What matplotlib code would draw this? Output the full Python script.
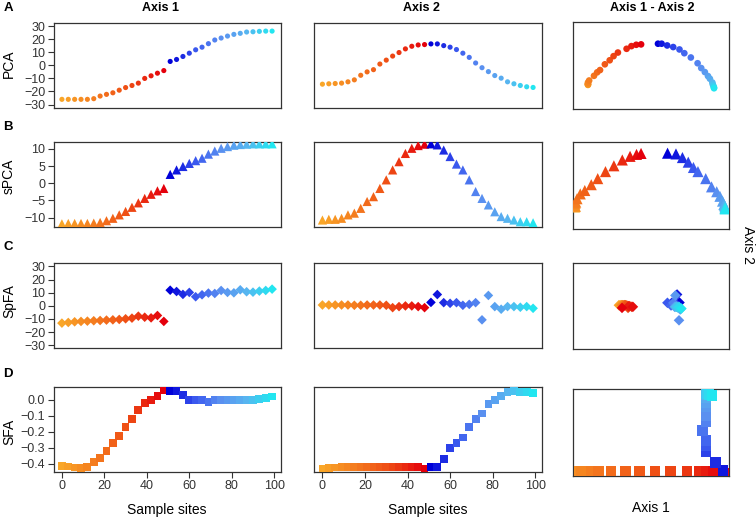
import numpy as np
import matplotlib
matplotlib.use("Agg")
import matplotlib.pyplot as plt
from matplotlib.colors import LinearSegmentedColormap

plt.rcParams["font.family"] = ["Liberation Sans", "DejaVu Sans"]

# sample sites along the transect
sites = [0, 3, 6, 9, 12, 15, 18, 21, 24, 27, 30, 33, 36, 39, 42, 45, 48,
         51, 54, 57, 60, 63, 66, 69, 72, 75, 78, 81, 84, 87, 90, 93, 96, 99]

pca_ax1 = [-26, -26, -26, -26, -26, -25.5, -23.5, -22.2, -21, -19, -17, -15.4,
           -13.6, -10, -8, -6, -4,
           3, 4.5, 6.8, 9.3, 11.9, 13.9, 16.6, 19.4, 20.9, 22.4, 23.7, 24.5,
           25.5, 25.7, 26, 26.2, 26.2]
pca_ax2 = [-14.4, -14.1, -13.9, -13.6, -12.6, -11.1, -7.6, -5.0, -3.3, 1.0,
           4.0, 7.1, 9.8, 12.6, 14.6, 15.6, 15.9,
           16.4, 16.4, 15.1, 13.9, 12.1, 9.3, 6.1, 1.8, -1.8, -4.8, -7.8,
           -9.8, -12.6, -14.1, -15.4, -16.4, -16.9]

spca_ax1 = [-11.8, -11.7, -11.7, -11.7, -11.7, -11.6, -11.4, -10.9, -10.2,
            -9.2, -8.2, -7.0, -5.7, -4.4, -3.2, -2.2, -1.5,
            2.6, 3.9, 4.9, 5.8, 6.6, 7.3, 8.5, 9.4, 10.2, 10.7, 11.1, 11.3,
            11.4, 11.5, 11.5, 11.5, 11.5]
spca_ax2 = [-10.7, -10.5, -10.5, -10.2, -9.2, -8.7, -7.3, -5.3, -3.9, -1.5,
            1.0, 3.9, 6.3, 8.7, 10.2, 11.0, 11.4,
            11.5, 11.2, 9.7, 7.8, 5.6, 3.9, 1.0, -2.4, -4.4, -6.3, -8.3,
            -9.7, -10.2, -10.7, -11.2, -11.2, -11.5]

spfa_ax1 = [-13.2, -12.7, -12.2, -11.9, -11.7, -11.4, -11.2, -10.9, -10.7,
            -10.4, -9.9, -9.4, -7.9, -8.7, -9.2, -7.4, -11.9,
            11.9, 10.9, 8.7, 10.2, 6.9, 8.4, 9.7, 9.4, 11.7, 10.2, 9.9, 12.2,
            10.7, 10.4, 11.2, 11.7, 12.7]
spfa_ax2 = [0.6, 0.6, 0.6, 0.6, 0.6, 0.4, 0.4, 0.6, 0.6, 0.6, 0.4, -1.4,
            -0.6, -0.1, -0.1, -0.6, -1.4,
            2.6, 8.6, 2.4, 1.9, 2.4, 0.4, 1.1, 2.4, -10.7, 7.9, -0.6, -2.6,
            -0.6, -0.6, -1.1, -0.6, -1.9]

sfa_ax1 = [-0.413, -0.418, -0.424, -0.428, -0.422, -0.388, -0.365, -0.322,
           -0.273, -0.225, -0.173, -0.121, -0.065, -0.023, 0.0, 0.025, 0.06,
           0.056, 0.056, 0.031, 0.0, 0.0, 0.0, -0.013, 0.0, 0.0, 0.0, 0.0,
           0.0, 0.0, 0.0, 0.003, 0.01, 0.019]
sfa_ax2 = [-0.433, -0.429, -0.424, -0.423, -0.423, -0.423, -0.423, -0.423,
           -0.423, -0.423, -0.423, -0.423, -0.423, -0.423, -0.423, -0.423,
           -0.433,
           -0.423, -0.419, -0.371, -0.304, -0.269, -0.236, -0.173, -0.123,
           -0.086, -0.027, -0.002, 0.025, 0.046, 0.054, 0.050, 0.046, 0.039]

methods = ["PCA", "sPCA", "SpFA", "SFA"]
panel_letters = ["A", "B", "C", "D"]
col_titles = ["Axis 1", "Axis 2", "Axis 1 - Axis 2"]
y_ticks = [[-30, -20, -10, 0, 10, 20, 30], [-10, -5, 0, 5, 10],
           [-30, -20, -10, 0, 10, 20, 30], [-0.4, -0.3, -0.2, -0.1, 0.0]]
x_ticks = [0, 20, 40, 60, 80, 100]

# colours: orange->red for first half of the transect, blue->cyan for the second
warm = LinearSegmentedColormap.from_list("warm", ["#F9A628", "#F47A1E", "#EE4A14", "#E4000C"])
cool = LinearSegmentedColormap.from_list("cool", ["#0000D8", "#3A58EE", "#5A90F0", "#58B4F0", "#22E6F0"])
n_half = 17
colors = [warm(i / (n_half - 1)) for i in range(n_half)] + \
         [cool(i / (n_half - 1)) for i in range(n_half)]

W, H = 756, 519
fig = plt.figure(figsize=(W / 100, H / 100), dpi=100, facecolor="white")


def box(l, t, r, b):
    return fig.add_axes([l / W, 1 - b / H, (r - l) / W, (b - t) / H])


def style(ax):
    for s in ax.spines.values():
        s.set_color("#333333")
        s.set_linewidth(0.9)
    ax.tick_params(colors="#333333", labelsize=9, length=4, width=0.8, pad=2)
    ax.set_xticks([])
    ax.set_yticks([])


rows12 = [(23, 107.7), (142.3, 226.7), (263.3, 348.3), (387.3, 472)]
rows3 = [(22.3, 109), (142.3, 229), (262.7, 349.3), (389.3, 476)]
cols = [(53.5, 280.5), (314, 541.5), (572.5, 729)]

data = [(pca_ax1, pca_ax2), (spca_ax1, spca_ax2), (spfa_ax1, spfa_ax2), (sfa_ax1, sfa_ax2)]
markers = ["o", "^", "D", "s"]
size12 = [3.7, 6.6, 4.9, 5.6]
size3 = [4.8, 8.0, 5.4, 7.6]
ylims12 = [(-32.4, 32.4), (-12.65, 11.95), (-32.4, 32.4), (-0.452, 0.077)]
lims3 = [((-32.4, 32.4), (-32.4, 32.4)), ((-12.1, 12.1), (-19.8, 16.0)),
         ((-32.4, 32.4), (-32.4, 32.4)), ((-0.452, 0.077), (-0.452, 0.077))]
label_y = [64, 176, 301, 432]
letter_y = [8, 127, 247, 374]

for r in range(4):
    a1, a2 = data[r]
    for c in range(2):
        t, b = rows12[r]
        ax = box(cols[c][0], t, cols[c][1], b)
        style(ax)
        ax.scatter(sites, a1 if c == 0 else a2, c=colors, marker=markers[r],
                   s=size12[r] ** 2, linewidths=0, zorder=3)
        ax.set_xlim(-3.96, 102.96)
        ax.set_ylim(*ylims12[r])
        if c == 0:
            ax.set_yticks(y_ticks[r])
        if r == 3:
            ax.set_xticks(x_ticks)
            ax.set_xlabel("Sample sites", fontsize=10, labelpad=8)
    t, b = rows3[r]
    ax = box(cols[2][0], t, cols[2][1], b)
    style(ax)
    ax.scatter(a1, a2, c=colors, marker=markers[r], s=size3[r] ** 2,
               linewidths=0, zorder=3)
    ax.set_xlim(*lims3[r][0])
    ax.set_ylim(*lims3[r][1])

    fig.text(9 / W, 1 - label_y[r] / H, methods[r], rotation=90, fontsize=10,
             ha="center", va="center")
    fig.text(8 / W, 1 - letter_y[r] / H, panel_letters[r], fontsize=9.5,
             fontweight="bold", ha="center", va="center")

for x, title in zip([160, 421, 652.5], col_titles):
    fig.text(x / W, 1 - 8 / H, title, fontsize=9, fontweight="bold",
             ha="center", va="center")

fig.text(650.75 / W, 1 - 508 / H, "Axis 1", fontsize=10, ha="center", va="center")
fig.text(748 / W, 1 - 245 / H, "Axis 2", fontsize=10, rotation=-90,
         ha="center", va="center")

fig.savefig("out.png", dpi=100, facecolor="white")
